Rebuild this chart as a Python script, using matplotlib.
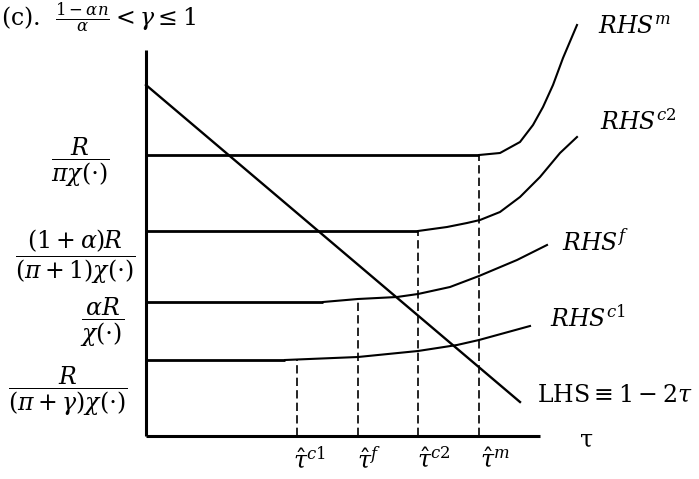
import matplotlib
matplotlib.use("Agg")
import matplotlib.pyplot as plt

plt.rcParams['font.family'] = 'serif'
plt.rcParams['font.serif'] = ['DejaVu Serif']
plt.rcParams['mathtext.fontset'] = 'dejavuserif'
plt.rcParams['lines.scale_dashes'] = False

# levels of the flat parts (value axis), and where each RHS starts to bend
levels = [281, 205, 134, 76]           # m, c2, f, c1
kinks = [333, 272, 177, 139]
level_labels = [r'$\dfrac{R}{\pi\chi(\cdot)}$',
                r'$\dfrac{(1+\alpha)R}{(\pi+1)\chi(\cdot)}$',
                r'$\dfrac{\alpha R}{\chi(\cdot)}$',
                r'$\dfrac{R}{(\pi+\gamma)\chi(\cdot)}$']
level_label_x = [-66, -71, -44, -78]
level_label_y = [274, 179, 114, 45]

# rising parts of the RHS curves
rhs_m_x = [333, 354, 374, 387, 397, 407, 417, 431]
rhs_m_y = [281, 283, 294, 311, 329, 351, 378, 411]
rhs_c2_x = [272, 301, 321, 334, 354, 374, 394, 414, 431]
rhs_c2_y = [205, 209, 213, 216, 224, 239, 259, 283, 299]
rhs_f_x = [177, 212, 251, 272, 304, 333, 371, 401]
rhs_f_y = [134, 137, 139, 142, 149, 160, 176, 191]
rhs_c1_x = [139, 212, 272, 311, 333, 384]
rhs_c1_y = [76, 79, 85, 91, 96, 110]

rhs_names = [r'$RHS^m$', r'$RHS^{c2}$', r'$RHS^f$', r'$RHS^{c1}$']
rhs_label_x = [452, 454, 416, 404]
rhs_label_y = [409, 314, 194, 118]

# LHS = 1 - 2 tau
lhs_x = [0, 374]
lhs_y = [351, 34]

# thresholds tau-hat
tau_hat = [151, 212, 272, 333]
tau_top = [76, 135, 205, 281]
tau_names = [r'$\hat{\tau}^{c1}$', r'$\hat{\tau}^{f}$', r'$\hat{\tau}^{c2}$', r'$\hat{\tau}^{m}$']
tau_label_x = [147, 211, 271, 334]

fig = plt.figure(figsize=(6.99, 4.79), dpi=100)
ax = fig.add_axes([0, 0, 1, 1])
ax.set_xlim(-146, 553)
ax.set_ylim(-43, 436)
ax.axis('off')

# axes
ax.plot([0, 0], [0, 386], color='k', lw=2.2, solid_capstyle='butt')
ax.plot([0, 394], [0, 0], color='k', lw=2.2, solid_capstyle='butt')

# flat parts
for lv, kx in zip(levels, kinks):
    ax.plot([0, kx], [lv, lv], color='k', lw=2.0, solid_capstyle='butt')

curves = [(rhs_m_x, rhs_m_y), (rhs_c2_x, rhs_c2_y), (rhs_f_x, rhs_f_y), (rhs_c1_x, rhs_c1_y)]
for cx, cy in curves:
    ax.plot(cx, cy, color='k', lw=1.5, solid_joinstyle='round')

ax.plot(lhs_x, lhs_y, color='k', lw=1.7)

for tx, ty in zip(tau_hat, tau_top):
    ax.plot([tx, tx], [0, ty], color='k', lw=1.2, linestyle=(0, (6, 3)))

fs = 17
for s, x, y in zip(level_labels, level_label_x, level_label_y):
    ax.text(x, y, s, ha='center', va='center', fontsize=fs)
for s, x, y in zip(rhs_names, rhs_label_x, rhs_label_y):
    ax.text(x, y, s, ha='left', va='center', fontsize=fs)
for s, x in zip(tau_names, tau_label_x):
    ax.text(x, -24, s, ha='left', va='center', fontsize=fs)

ax.text(391, 41, r'$\mathrm{LHS} \equiv 1 - 2\tau$', ha='left', va='center', fontsize=fs)
ax.text(441, -4, 'τ', ha='center', va='center', fontsize=fs)
ax.text(-145, 419, r'(c).  $\frac{1-\alpha n}{\alpha} < \gamma \leq 1$', ha='left', va='center',
        fontsize=fs)

fig.savefig('out.png', dpi=100)
